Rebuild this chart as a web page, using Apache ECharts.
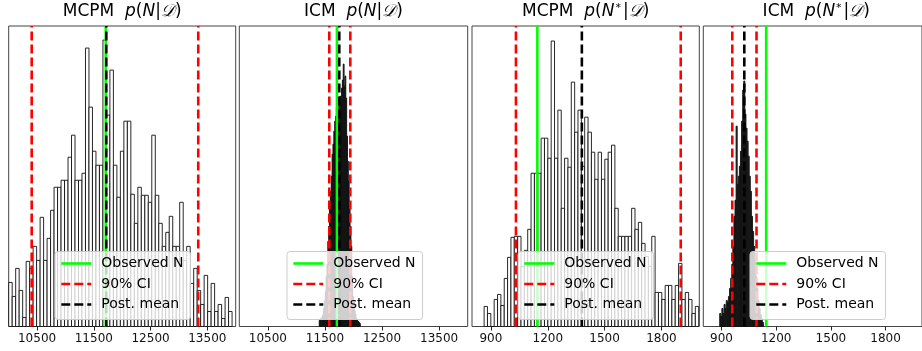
<!DOCTYPE html>
<html>
<head>
<meta charset="utf-8">
<script src="https://cdn.jsdelivr.net/npm/echarts@6/dist/echarts.min.js"></script>
<style>
html,body{margin:0;padding:0;background:#fff}
#chart{width:922px;height:351px}
</style>
</head>
<body>
<div id="chart"></div>
<script>
// histogram counts (left to right)
var mcpmN = [44,30,58,36,9,65,58,80,66,109,66,88,116,139,139,146,146,169,191,146,146,153,278,219,175,161,161,286,
	211,256,161,129,175,205,205,132,103,139,131,131,124,191,131,103,80,94,110,80,80,124,66,80,43,58,36,22,51,15,43,15,22,8,29,15];
var mcpmNStart = 10000, mcpmNWidth = 61.5;

var icmN = [6,8,6,10,12,18,26,35,50,62,85,100,118,135,150,172,182,195,205,210,218,222,215,226,230,222,238,246,262,240,
	250,228,190,165,145,122,100,80,50,30,25,16,12,8,6,5,4,3];
var icmNStart = 11400, icmNWidth = 15;

var mcpmNs = [20,13,0,27,32,21,48,69,89,90,90,60,76,97,153,153,153,188,188,168,285,168,216,118,168,159,244,194,216,
	160,209,194,174,147,174,147,167,174,181,118,90,90,90,90,118,97,104,83,70,60,90,34,34,27,41,41,27,41,63,27,34,27,13,20];
var mcpmNsStart = 864, mcpmNsWidth = 17.7;

var icmNs = [13,10,18,13,22,18,26,24,30,38,48,62,80,110,126,200,142,150,160,175,205,236,245,212,198,185,170,150,135,110,
	95,80,66,50,38,26,18,12,8,4];
var icmNsStart = 890, icmNsWidth = 6;

// reference lines per panel
var observedN = [11710, 11710, 1145, 1145];
var ciLow = [10405, 11576, 1032, 959];
var ciHigh = [13340, 11944, 1902, 1092];
var postMean = [11720, 11751, 1380, 1025];

var tickN = [10500, 11500, 12500, 13500];
var tickNs = [900, 1200, 1500, 1800];
var legendNames = ['Observed N', '90% CI', 'Post. mean'];

function toBins(counts, start, width){
	var out = [];
	for (var i = 0; i < counts.length; i++) {
		out.push([start + i * width, start + (i + 1) * width, counts[i]]);
	}
	return out;
}

var yTop = 300;
var hists = [
	toBins(mcpmN, mcpmNStart, mcpmNWidth),
	toBins(icmN, icmNStart, icmNWidth),
	toBins(mcpmNs, mcpmNsStart, mcpmNsWidth),
	toBins(icmNs, icmNsStart, icmNsWidth)
];
var xRange = [[10000,14000],[10000,14000],[800,2000],[800,2000]];
var xTicks = [tickN, tickN, tickNs, tickNs];
// ICM bins are so narrow that their edges fill them in
var barFill = ['#fff', '#2a2a2a', '#fff', '#2a2a2a'];

var gridLeft = [8.7, 239.3, 472, 703.3];
var gridWidth = [227, 228.4, 227.3, 226];
var legendLeft = [55, 287, 518, 750];

var titleRich = {
	i: {fontFamily: 'DejaVu Sans', fontStyle: 'italic', fontSize: 17, color: '#000'},
	c: {fontFamily: 'DejaVu Serif', fontStyle: 'italic', fontSize: 17, color: '#000'},
	s: {fontFamily: 'DejaVu Sans', fontSize: 11, color: '#000', padding: [0, 2, 8, 1]}
};
var titles = [
	'MCPM  {i|p}({i|N}|{c|𝒟})',
	'ICM  {i|p}({i|N}|{c|𝒟})',
	'MCPM  {i|p}({i|N}{s|*}|{c|𝒟})',
	'ICM  {i|p}({i|N}{s|*}|{c|𝒟})'
];

function makeRender(fill){
	return function(params, api){
		var a = api.coord([api.value(0), api.value(2)]);
		var b = api.coord([api.value(1), 0]);
		return {
			type: 'rect',
			shape: {x: a[0], y: a[1], width: b[0] - a[0], height: b[1] - a[1]},
			style: {fill: fill, stroke: '#111', lineWidth: 0.9}
		};
	};
}

function vline(name, k, v, color, dash){
	return {
		name: name, type: 'line', xAxisIndex: k, yAxisIndex: k,
		data: [[v, 0], [v, yTop]],
		symbol: 'none', silent: true, animation: false,
		itemStyle: {color: color},
		lineStyle: {color: color, width: 2.6, type: dash}
	};
}

var grid = [], xAxis = [], yAxis = [], series = [], title = [], legend = [];
for (var k = 0; k < 4; k++) {
	grid.push({left: gridLeft[k], top: 26, width: gridWidth[k], height: 300.5,
		show: true, borderColor: '#444', borderWidth: 1, backgroundColor: '#fff'});
	xAxis.push({
		type: 'value', gridIndex: k, min: xRange[k][0], max: xRange[k][1],
		axisLine: {show: false},
		splitLine: {show: false},
		axisTick: {show: true, inside: false, length: 4, customValues: xTicks[k], lineStyle: {color: '#222', width: 1}},
		axisLabel: {customValues: xTicks[k], margin: 6, fontSize: 12, color: '#111', fontFamily: 'DejaVu Sans',
			formatter: function(v){ return String(v); }}
	});
	yAxis.push({type: 'value', gridIndex: k, min: 0, max: yTop, show: false, splitLine: {show: false}});
	series.push({
		type: 'custom', name: 'hist' + k, xAxisIndex: k, yAxisIndex: k,
		renderItem: makeRender(barFill[k]), data: hists[k], encode: {x: [0, 1], y: 2},
		silent: true, animation: false
	});
	series.push(vline('Observed N', k, observedN[k], '#00ff00', 'solid'));
	series.push(vline('90% CI', k, ciLow[k], '#ff0000', [9, 4]));
	series.push(vline('90% CI', k, ciHigh[k], '#ff0000', [9, 4]));
	series.push(vline('Post. mean', k, postMean[k], '#000000', [9, 4]));
	title.push({
		text: titles[k], left: gridLeft[k] + gridWidth[k] / 2, top: 12,
		textAlign: 'center', textVerticalAlign: 'middle', padding: 0,
		textStyle: {fontFamily: 'DejaVu Sans', fontSize: 17, fontWeight: 'normal', color: '#000', rich: titleRich}
	});
	legend.push({
		data: legendNames, orient: 'vertical', left: legendLeft[k], top: 251.5,
		itemWidth: 30, itemHeight: 14, itemGap: 6.5, selectedMode: false,
		padding: [5, 7, 8, 5],
		backgroundColor: 'rgba(255,255,255,0.8)', borderColor: '#cccccc', borderWidth: 1, borderRadius: 3,
		itemStyle: {opacity: 0, color: 'rgba(0,0,0,0)', borderWidth: 0},
		lineStyle: {width: 2.6},
		textStyle: {fontFamily: 'DejaVu Sans', fontSize: 14, color: '#000', padding: [0, 0, 0, 5]}
	});
}

var chart = echarts.init(document.getElementById('chart'));
chart.setOption({
	animation: false,
	backgroundColor: '#fff',
	title: title,
	legend: legend,
	grid: grid,
	xAxis: xAxis,
	yAxis: yAxis,
	series: series
});
</script>
</body>
</html>
